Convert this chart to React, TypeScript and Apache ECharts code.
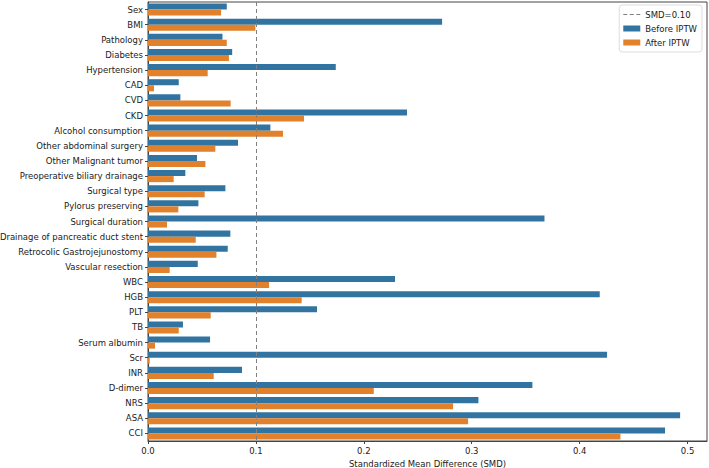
import React, { useEffect, useRef } from "react";
import * as echarts from "echarts";

const categories = [
  "Sex", "BMI", "Pathology", "Diabetes", "Hypertension", "CAD", "CVD", "CKD",
  "Alcohol consumption", "Other abdominal surgery", "Other Malignant tumor",
  "Preoperative biliary drainage", "Surgical type", "Pylorus preserving",
  "Surgical duration", "Drainage of pancreatic duct stent", "Retrocolic Gastrojejunostomy",
  "Vascular resection", "WBC", "HGB", "PLT", "TB", "Serum albumin", "Scr", "INR",
  "D-dimer", "NRS", "ASA", "CCI",
];

const beforeIPTW = [
  0.073, 0.2725, 0.069, 0.078, 0.174, 0.0285, 0.030, 0.240,
  0.1134, 0.0834, 0.0454,
  0.0346, 0.0717, 0.0467,
  0.3674, 0.0763, 0.0739,
  0.0461, 0.2289, 0.4186, 0.1566, 0.0324, 0.0575, 0.4254, 0.0871,
  0.3562, 0.3062, 0.4931, 0.4791,
];

const afterIPTW = [
  0.0677, 0.0995, 0.073, 0.075, 0.0553, 0.0056, 0.0766, 0.1446,
  0.1251, 0.0624, 0.0532,
  0.0238, 0.0525, 0.0281,
  0.0176, 0.0442, 0.0634,
  0.0201, 0.1122, 0.1424, 0.0581, 0.0285, 0.0065, 0.0016, 0.0609,
  0.2092, 0.2827, 0.2966, 0.4378,
];

const xTicks = [0, 0.1, 0.2, 0.3, 0.4, 0.5];
const threshold = 0.1;

const BLUE = "#3274a1";
const ORANGE = "#e1812c";
const FONT = "DejaVu Sans";
const FS = 8.5;

export default function App() {
  const ref = useRef<HTMLDivElement>(null);
  useEffect(() => {
    if (!ref.current) return;
    const chart = echarts.init(ref.current, null, { renderer: "svg" });
    chart.setOption({
      animation: false,
      textStyle: { fontFamily: FONT },
      grid: {
        left: 148,
        right: 2,
        top: 2,
        bottom: 27,
        show: true,
        borderColor: "#444",
        borderWidth: 1,
        containLabel: false,
        outerBoundsMode: "none",
      },
      legend: {
        orient: "vertical",
        right: 7,
        top: 5,
        itemWidth: 17,
        itemHeight: 6,
        itemGap: 5,
        padding: [5, 5, 5, 4],
        borderColor: "#dddddd",
        borderWidth: 1,
        borderRadius: 3,
        backgroundColor: "#ffffff",
        textStyle: { fontFamily: FONT, fontSize: FS, color: "#1a1a1a" },
        data: [
          { name: "SMD=0.10", icon: "path://M0,0h4v1h-4z M6.5,0h4v1h-4z M13,0h4v1h-4z", itemStyle: { color: "#808080" } },
          { name: "Before IPTW", icon: "rect" },
          { name: "After IPTW", icon: "rect" },
        ],
      },
      xAxis: {
        type: "value",
        min: 0,
        max: 0.518,
        interval: 0.1,
        name: "Standardized Mean Difference (SMD)",
        nameLocation: "middle",
        nameGap: 17,
        nameTextStyle: { fontFamily: FONT, fontSize: FS, color: "#1a1a1a" },
        axisLine: { show: true, lineStyle: { color: "#444" } },
        axisTick: { show: true, length: 3, lineStyle: { color: "#444" } },
        splitLine: { show: false },
        axisLabel: {
          fontFamily: FONT,
          fontSize: FS,
          color: "#1a1a1a",
          margin: 5,
          showMaxLabel: false,
          formatter: (v: number) => {
            const ok = xTicks.some((t) => Math.abs(t - v) < 1e-9);
            return ok ? v.toFixed(1) : "";
          },
        },
      },
      yAxis: {
        type: "category",
        data: categories,
        inverse: true,
        axisLine: { show: true, lineStyle: { color: "#444" } },
        axisTick: { show: true, length: 3, alignWithLabel: true, lineStyle: { color: "#444" } },
        axisLabel: { fontFamily: FONT, fontSize: FS, color: "#1a1a1a", margin: 5, interval: 0 },
        splitLine: { show: false },
      },
      series: [
        {
          name: "SMD=0.10",
          type: "line",
          data: [],
          itemStyle: { color: "#808080" },
          lineStyle: { color: "#808080", type: "dashed" },
          markLine: {
            silent: true,
            symbol: "none",
            label: { show: false },
            lineStyle: { color: "#808080", type: [4, 3], width: 1 },
            data: [{ xAxis: threshold }],
          },
        },
        {
          name: "Before IPTW",
          type: "bar",
          data: beforeIPTW,
          itemStyle: { color: BLUE },
          barGap: "0%",
          barCategoryGap: "20%",
        },
        {
          name: "After IPTW",
          type: "bar",
          data: afterIPTW,
          itemStyle: { color: ORANGE },
          barGap: "0%",
          barCategoryGap: "20%",
        },
      ],
    });
    return () => chart.dispose();
  }, []);
  return <div ref={ref} style={{ width: 709, height: 468, position: "absolute", left: 0, top: 0 }} />;
}
